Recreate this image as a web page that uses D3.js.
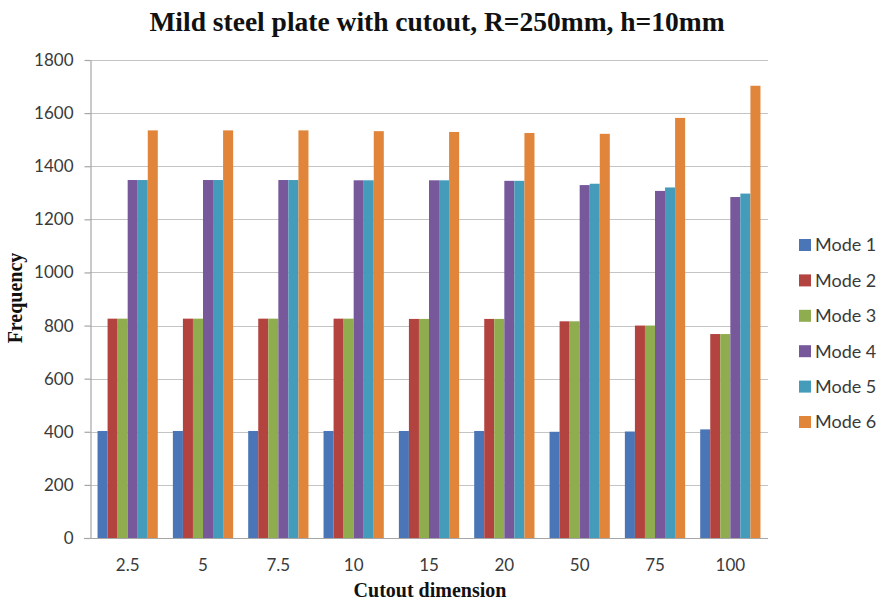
<!DOCTYPE html>
<html>
<head>
<meta charset="utf-8">
<script src="https://cdn.jsdelivr.net/npm/d3@7"></script>
<style>
  html, body { margin: 0; padding: 0; background: #ffffff; }
  svg { display: block; }
</style>
</head>
<body>
<svg id="chart" width="881" height="601"></svg>
<script>
// Cutout dimensions along the category axis
const categories = ["2.5", "5", "7.5", "10", "15", "20", "50", "75", "100"];

// Natural frequency of each mode per cutout dimension
const mode1 = [403, 403, 403, 403, 403, 403, 400, 401, 409];
const mode2 = [826, 826, 826, 826, 825, 825, 816, 800, 768];
const mode3 = [826, 826, 826, 826, 825, 825, 816, 800, 768];
const mode4 = [1348, 1348, 1348, 1347, 1347, 1345, 1329, 1307, 1284];
const mode5 = [1348, 1348, 1348, 1347, 1347, 1345, 1334, 1320, 1297];
const mode6 = [1535, 1535, 1535, 1532, 1529, 1525, 1522, 1582, 1703];

const seriesNames = ["Mode 1", "Mode 2", "Mode 3", "Mode 4", "Mode 5", "Mode 6"];
const seriesValues = [mode1, mode2, mode3, mode4, mode5, mode6];
const seriesColors = ["#4a75b6", "#b3433f", "#8fad4e", "#77589b", "#449cba", "#e0853a"];

const yTicks = [0, 200, 400, 600, 800, 1000, 1200, 1400, 1600, 1800];

const svg = d3.select("#chart");

const plot = { left: 90, right: 768, top: 60, bottom: 538 };

const x0 = d3.scaleBand()
  .domain(categories)
  .range([plot.left, plot.right])
  .paddingInner(0.2)
  .paddingOuter(0.1);

const x1 = d3.scaleBand()
  .domain(seriesNames)
  .range([0, x0.bandwidth()]);

const y = d3.scaleLinear()
  .domain([0, 1800])
  .range([plot.bottom, plot.top]);

const color = d3.scaleOrdinal().domain(seriesNames).range(seriesColors);

const labelFont = "Lato, 'Open Sans', 'Liberation Sans', sans-serif";
const titleFont = "'Liberation Serif', 'Times New Roman', serif";

// Horizontal gridlines
svg.append("g")
  .selectAll("line")
  .data(yTicks.filter(d => d > 0))
  .join("line")
  .attr("x1", plot.left)
  .attr("x2", plot.right)
  .attr("y1", d => Math.round(y(d)) + 0.5)
  .attr("y2", d => Math.round(y(d)) + 0.5)
  .attr("stroke", "#c4c4c4")
  .attr("stroke-width", 1.2);

// Grouped bars
const rows = categories.map((c, i) => ({
  category: c,
  values: seriesNames.map((s, j) => ({ series: s, value: seriesValues[j][i] }))
}));

svg.append("g")
  .selectAll("g")
  .data(rows)
  .join("g")
  .attr("transform", d => `translate(${x0(d.category)},0)`)
  .selectAll("rect")
  .data(d => d.values)
  .join("rect")
  .attr("x", d => x1(d.series))
  .attr("width", x1.bandwidth())
  .attr("y", d => y(d.value))
  .attr("height", d => y(0) - y(d.value))
  .attr("fill", d => color(d.series));

// Y axis
const yAxis = svg.append("g")
  .attr("transform", `translate(${plot.left + 0.5},0)`)
  .call(d3.axisLeft(y).tickValues(yTicks).tickFormat(d3.format("d"))
    .tickSize(6).tickPadding(11).tickSizeOuter(0));
yAxis.select(".domain").attr("stroke", "#a6a6a6").attr("stroke-width", 1.2);
yAxis.selectAll(".tick line").attr("stroke", "#a6a6a6").attr("stroke-width", 1.2);
yAxis.selectAll(".tick text")
  .attr("font-family", labelFont)
  .attr("font-size", 17)
  .attr("fill", "#3a3a3a");

// X axis
const xAxis = svg.append("g")
  .attr("transform", `translate(0,${plot.bottom + 0.5})`)
  .call(d3.axisBottom(x0).tickSize(0).tickPadding(20).tickSizeOuter(0));
xAxis.select(".domain")
  .attr("d", `M${plot.left - 6},0H${plot.right}`)
  .attr("stroke", "#a6a6a6").attr("stroke-width", 1.2);
xAxis.selectAll(".tick text")
  .attr("font-family", labelFont)
  .attr("font-size", 17)
  .attr("fill", "#3a3a3a");

// Title
svg.append("text")
  .attr("x", 437)
  .attr("y", 31)
  .attr("text-anchor", "middle")
  .attr("font-family", titleFont)
  .attr("font-weight", "bold")
  .attr("font-size", 27.5)
  .attr("fill", "#111")
  .text("Mild steel plate with cutout, R=250mm, h=10mm");

// Axis titles
svg.append("text")
  .attr("x", 430)
  .attr("y", 597)
  .attr("text-anchor", "middle")
  .attr("font-family", titleFont)
  .attr("font-weight", "bold")
  .attr("font-size", 20)
  .attr("fill", "#111")
  .text("Cutout dimension");

svg.append("text")
  .attr("transform", "translate(22,298) rotate(-90)")
  .attr("text-anchor", "middle")
  .attr("font-family", titleFont)
  .attr("font-weight", "bold")
  .attr("font-size", 20)
  .attr("fill", "#111")
  .text("Frequency");

// Legend
const legend = svg.append("g")
  .selectAll("g")
  .data(seriesNames)
  .join("g")
  .attr("transform", (d, i) => `translate(799,${245 + i * 35.4})`);

legend.append("rect")
  .attr("x", 0)
  .attr("y", -6)
  .attr("width", 12)
  .attr("height", 12)
  .attr("fill", d => color(d));

legend.append("text")
  .attr("x", 16)
  .attr("y", 0)
  .attr("dy", "0.36em")
  .attr("font-family", labelFont)
  .attr("font-size", 18)
  .attr("fill", "#3a3a3a")
  .text(d => d);
</script>
</body>
</html>
